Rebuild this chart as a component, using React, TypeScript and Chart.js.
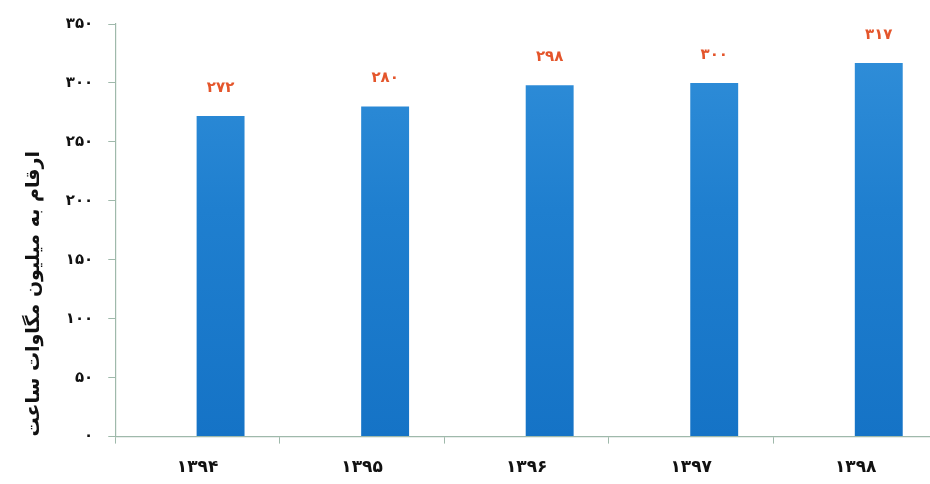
import { useEffect, useRef } from 'react';
import { Chart, registerables, Plugin } from 'chart.js';

Chart.register(...registerables);

const years = ['۱۳۹۴', '۱۳۹۵', '۱۳۹۶', '۱۳۹۷', '۱۳۹۸'];
const energy = [272, 280, 298, 300, 317];
const spacer = [null, null, null, null, null];
const yTitle = 'ارقام به میلیون مگاوات ساعت';

const faDigits = ['۰', '۱', '۲', '۳', '۴', '۵', '۶', '۷', '۸', '۹'];
const toFa = (n: number | string) =>
  String(n).replace(/\d/g, (d) => faDigits[Number(d)]);

const FONT = '"DejaVu Sans", sans-serif';
const AXIS = '#9fb9ab';

// value labels above the bars
const valueLabels: Plugin<'bar'> = {
  id: 'valueLabels',
  afterDatasetsDraw(chart) {
    const ctx = chart.ctx;
    const meta = chart.getDatasetMeta(1);
    ctx.save();
    ctx.font = `bold 15px ${FONT}`;
    ctx.fillStyle = '#e4552b';
    ctx.textAlign = 'center';
    ctx.textBaseline = 'middle';
    meta.data.forEach((bar, i) => {
      ctx.fillText(toFa(energy[i]), bar.x, bar.y - 28);
    });
    ctx.restore();
  },
};

export default function App() {
  const canvasRef = useRef<HTMLCanvasElement>(null);

  useEffect(() => {
    document.body.style.margin = '0';
    if (!canvasRef.current) return;

    const chart = new Chart(canvasRef.current, {
      type: 'bar',
      data: {
        labels: years,
        datasets: [
          { data: spacer, backgroundColor: 'transparent' },
          {
            data: energy,
            backgroundColor: (c) => {
              const area = c.chart.chartArea;
              if (!area) return '#1f7fcf';
              const g = c.chart.ctx.createLinearGradient(0, area.top, 0, area.bottom);
              g.addColorStop(0, '#3290da');
              g.addColorStop(0.45, '#1f7fcf');
              g.addColorStop(1, '#1573c6');
              return g;
            },
          },
        ],
      },
      options: {
        animation: false,
        responsive: true,
        maintainAspectRatio: false,
        datasets: {
          bar: { categoryPercentage: 0.56, barPercentage: 1.04 },
        },
        layout: { padding: { top: 14, left: 14, right: 6, bottom: 0 } },
        plugins: {
          legend: { display: false },
          tooltip: { enabled: false },
        },
        scales: {
          x: {
            offset: true,
            border: { color: AXIS, width: 1.2 },
            grid: {
              offset: true,
              drawOnChartArea: false,
              color: AXIS,
              tickLength: 7,
            },
            ticks: {
              color: '#111',
              padding: 14,
              font: { family: FONT, size: 17, weight: 'bold' },
            },
          },
          y: {
            min: 0,
            max: 350,
            border: { color: AXIS, width: 1.2 },
            grid: { drawOnChartArea: false, color: AXIS, tickLength: 7 },
            ticks: {
              stepSize: 50,
              color: '#111',
              padding: 15,
              font: { family: FONT, size: 15, weight: 'bold' },
              callback: (v) => toFa(v),
            },
            title: {
              display: true,
              text: yTitle,
              align: 'start',
              color: '#111',
              padding: { top: 9, bottom: 5 },
              font: { family: FONT, size: 19, weight: 'bold' },
            },
          },
        },
      },
      plugins: [valueLabels],
    });

    return () => chart.destroy();
  }, []);

  return (
    <div style={{ width: 930, height: 484, overflow: 'hidden', background: '#fff' }}>
      <div style={{ width: 944, height: 492, position: 'relative' }}>
        <canvas ref={canvasRef} />
      </div>
    </div>
  );
}
